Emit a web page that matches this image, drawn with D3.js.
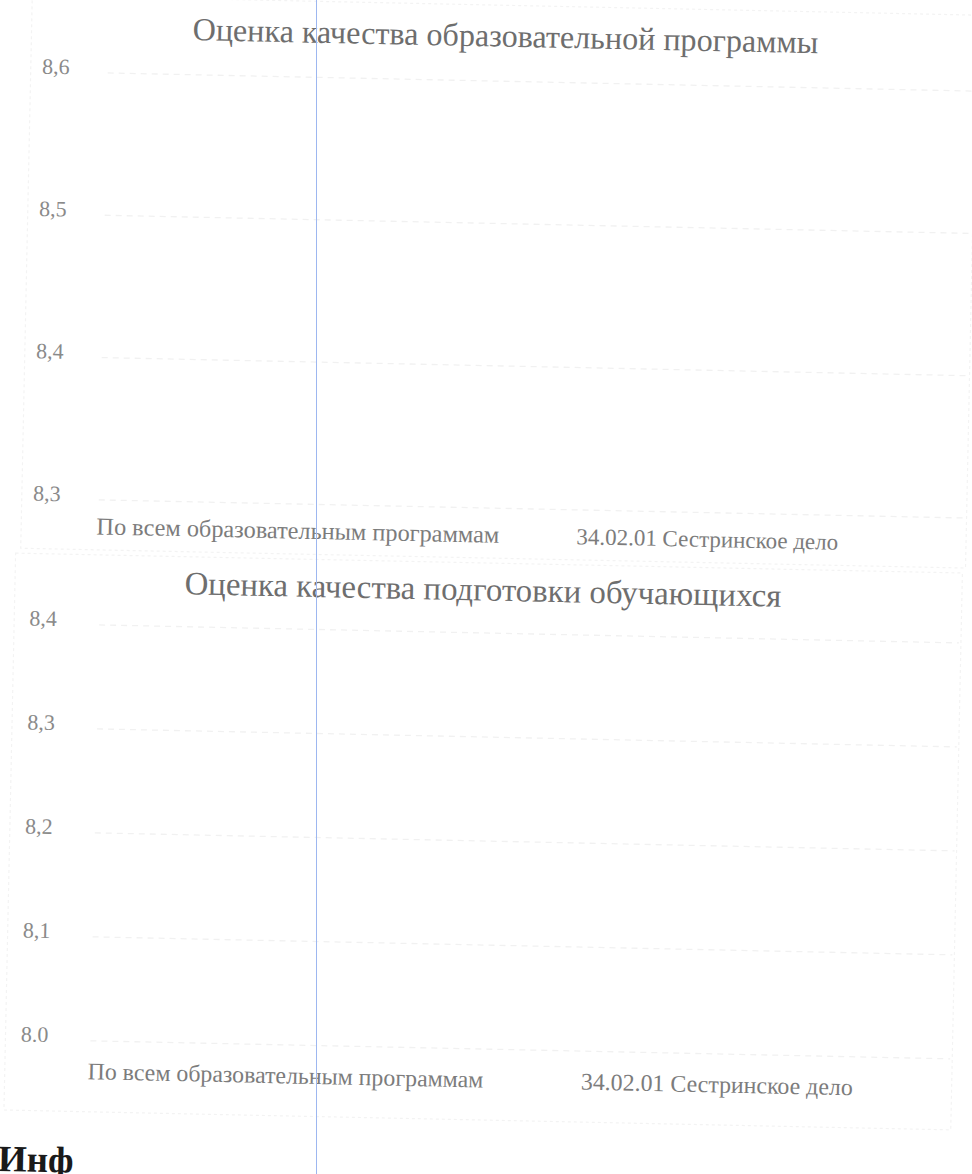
<!DOCTYPE html>
<html><head><meta charset="utf-8">
<script src="https://cdn.jsdelivr.net/npm/d3@7"></script>
<style>html,body{margin:0;padding:0;background:#fff;overflow:hidden}</style>
</head><body>
<svg id="c" width="972" height="1174"></svg>
<script>
// ---- data ----
const categories = ["По всем образовательным программам", "34.02.01 Сестринское дело"];
const title1 = "Оценка качества образовательной программы";
const title2 = "Оценка качества подготовки обучающихся";
const ticks1 = [8.3, 8.4, 8.5, 8.6];
const tickLabels1 = ["8,3", "8,4", "8,5", "8,6"];
const ticks2 = [8.0, 8.1, 8.2, 8.3, 8.4];
const tickLabels2 = ["8.0", "8,1", "8,2", "8,3", "8,4"];
const footerText = "Инф";

const svg = d3.select("#c");
const FONT = "'Liberation Serif','Times New Roman',serif";
// the scanned page is slightly rotated
const page = svg.append("g").attr("transform", "rotate(1.2,486,587)");

function fitText(sel, target) {
  const base = parseFloat(sel.attr("font-size"));
  const len = sel.node().getComputedTextLength();
  if (len > 0) sel.attr("font-size", base * target / len);
  return sel;
}

function drawChart(cfg) {
  const g = page.append("g");
  // faint chart frame
  g.append("rect").attr("x", cfg.frame[0]).attr("y", cfg.frame[1])
    .attr("width", cfg.frame[2]).attr("height", cfg.frame[3])
    .attr("fill", "none").attr("stroke", "#f3f3f3").attr("stroke-width", 1.2)
    .attr("stroke-dasharray", "3,3");

  const y = d3.scaleLinear().domain(cfg.domain).range(cfg.yRange);
  const x = d3.scaleBand().domain(categories).range(cfg.xRange);

  // gridlines
  g.selectAll("line.grid").data(cfg.ticks).join("line")
    .attr("x1", cfg.gridX[0]).attr("x2", cfg.gridX[1])
    .attr("y1", d => y(d)).attr("y2", d => y(d))
    .attr("stroke", "#f1f1f1").attr("stroke-width", 1.3)
    .attr("stroke-dasharray", "6,5");

  // tick labels
  g.selectAll("text.tick").data(cfg.ticks).join("text")
    .attr("x", cfg.tickX).attr("y", (d) => y(d) - 3)
    .attr("text-anchor", "middle").attr("dominant-baseline", "middle")
    .attr("font-family", FONT).attr("font-size", cfg.tickSize)
    .attr("fill", "#8a8a8a")
    .text((d, i) => cfg.tickLabels[i]);

  // category labels
  categories.forEach((c, i) => {
    const t = g.append("text")
      .attr("x", x(c) + x.bandwidth() / 2).attr("y", cfg.catY)
      .attr("text-anchor", "middle").attr("dominant-baseline", "middle")
      .attr("font-family", FONT).attr("font-size", 18)
      .attr("fill", "#7c7c7c").text(c);
    fitText(t, cfg.catW[i]);
  });

  // title
  const tt = g.append("text")
    .attr("x", cfg.titleX).attr("y", cfg.titleY)
    .attr("text-anchor", "middle").attr("dominant-baseline", "middle")
    .attr("font-family", FONT).attr("font-size", 26)
    .attr("fill", "#6e6e6e").text(cfg.title);
  fitText(tt, cfg.titleW);
}

drawChart({
  title: title1, titleX: 494, titleY: 39, titleW: 626,
  domain: [8.3, 8.6], yRange: [508, 81], ticks: ticks1, tickLabels: tickLabels1,
  tickX: 45, tickSize: 22,
  xRange: [92, 911], gridX: [97, 962], catY: 537, catW: [403, 262],
  frame: [20, 5, 945, 553]
});

drawChart({
  title: title2, titleX: 483, titleY: 593, titleW: 597,
  domain: [8.0, 8.4], yRange: [1049, 633], ticks: ticks2, tickLabels: tickLabels2,
  tickX: 44, tickSize: 22,
  xRange: [80, 943], gridX: [100, 960], catY: 1082, catW: [396, 272],
  frame: [15, 563, 947, 557]
});

// bold heading cut off at the page bottom
page.append("text").attr("x", 10).attr("y", 1181)
  .attr("font-family", FONT).attr("font-weight", "bold").attr("font-size", 37)
  .attr("fill", "#1a1a1a").text(footerText);

// thin blue guide line over the scan
svg.append("line").attr("x1", 316.5).attr("x2", 316.5).attr("y1", 0).attr("y2", 1174)
  .attr("stroke", "#9db7f0").attr("stroke-width", 1);
</script>
</body></html>
